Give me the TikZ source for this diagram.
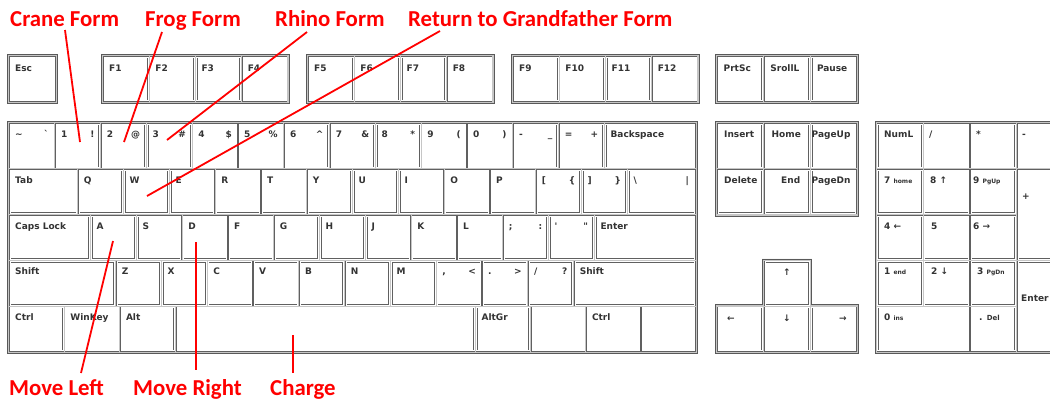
\documentclass[tikz,border=0pt]{standalone}
\usepackage{fontspec}
\setmainfont{DejaVu Sans}
\newfontfamily\redf{Carlito}
\tikzset{
 keyb/.style={draw=gray!75!black, double=white, double distance=0.7pt, line width=0.55pt, fill=white},
 grp/.style={draw=gray!70!black, fill=gray!45, line width=0.7pt},
 klab/.style={anchor=base west, inner sep=0pt, font=\bfseries\fontsize{9}{9}\selectfont, text=black!80},
 klabr/.style={klab, anchor=base east},
 klabc/.style={klab, anchor=base},
 redlab/.style={anchor=base west, inner sep=0pt, text=red, font=\redf\bfseries\fontsize{22.8}{24}\selectfont},
 redline/.style={draw=red, line width=1.8pt}
}
\newcommand\kbkey[4]{\draw[keyb] ({#1+1.3},{#2+1.3}) rectangle ({#3-1.3},{#4-1.3});}
\newcommand\kbl[3]{\node[klab] at ({#1+6},{#2+14.5}) {#3};}
\newcommand\kbp[4]{\node[klab] at ({#1+6},{#2+14.5}) {#3};\node[klabr] at ({#1+45.8-6},{#2+14.5}) {#4};}
\newcommand\kbsm[1]{{\fontsize{6}{6}\selectfont #1}}
\begin{document}
\begin{tikzpicture}[x=1pt,y=-1pt]
\useasboundingbox (0,0) rectangle (1050,400);
\clip (0,0) rectangle (1050,400);
% ---------- function row ----------
\draw[grp] (7.5,54.5) rectangle (57.5,103.5);
\kbkey{9}{56}{56}{102}
\node[klab] at (15,71) {Esc};
\foreach \g/\n in {103/1,308/5,513/9}{
  \draw[grp] ({\g-1.5},54.5) rectangle ({\g+4*46.2+1.5},103.5);
  \foreach \k in {0,...,3}{
    \kbkey{\g+\k*46.2}{56}{\g+\k*46.2+46.2}{102}
    \pgfmathtruncatemacro\fn{\n+\k}
    \node[klab] at ({\g+\k*46.2+6},71) {F\fn};
  }
}
\draw[grp] (715.5,54.5) rectangle (858.5,103.5);
\foreach \k/\t in {0/PrtSc,1/SrollL,2/Pause}{
  \kbkey{717+\k*46.67}{56}{717+\k*46.67+46.67}{102}
  \node[klab] at ({717+\k*46.67+6.5},71) {\t};
}
% ---------- main block ----------
\draw[grp] (7.5,121.5) rectangle (697.5,353.5);
\foreach \k in {0,...,12}{\kbkey{9+\k*45.8}{123}{9+\k*45.8+45.8}{168.8}}
\kbkey{604.4}{123}{696}{168.8}
\kbkey{9}{168.8}{77.7}{214.6}
\foreach \k in {0,...,11}{\kbkey{77.7+\k*45.8}{168.8}{77.7+\k*45.8+45.8}{214.6}}
\kbkey{627.3}{168.8}{696}{214.6}
\kbkey{9}{214.6}{90.5}{260.4}
\foreach \k in {0,...,10}{\kbkey{90.5+\k*45.8}{214.6}{90.5+\k*45.8+45.8}{260.4}}
\kbkey{594.3}{214.6}{696}{260.4}
\kbkey{9}{260.4}{115.6}{306.2}
\foreach \k in {0,...,9}{\kbkey{115.6+\k*45.8}{260.4}{115.6+\k*45.8+45.8}{306.2}}
\kbkey{573.6}{260.4}{696}{306.2}
\foreach \a/\b in {9/64.2,64.2/119.8,119.8/175.6,175.6/475.4,475.4/530.6,530.6/585.8,585.8/640.9,640.9/696}{\kbkey{\a}{306.2}{\b}{352}}
% row 1 labels
\kbp{9}{123}{\textasciitilde}{\textasciigrave}
\kbp{54.8}{123}{1}{!}
\kbp{100.6}{123}{2}{@}
\kbp{146.4}{123}{3}{\#}
\kbp{192.2}{123}{4}{\$}
\kbp{238}{123}{5}{\%}
\kbp{283.8}{123}{6}{\textasciicircum}
\kbp{329.6}{123}{7}{\&}
\kbp{375.4}{123}{8}{*}
\kbp{421.2}{123}{9}{(}
\kbp{467}{123}{0}{)}
\kbp{512.8}{123}{-}{\_}
\kbp{558.6}{123}{=}{+}
\kbl{604.4}{123}{Backspace}
% row 2 labels
\kbl{9}{168.8}{Tab}
\foreach \k/\t in {0/Q,1/W,2/E,3/R,4/T,5/Y,6/U,7/I,8/O,9/P}{\kbl{77.7+\k*45.8}{168.8}{\t}}
\kbp{535.7}{168.8}{[}{\{}
\kbp{581.5}{168.8}{]}{\}}
\node[klab] at (633.3,183.3) {\textbackslash};
\node[klabr] at (689,183.3) {|};
% row 3 labels
\kbl{9}{214.6}{Caps Lock}
\foreach \k/\t in {0/A,1/S,2/D,3/F,4/G,5/H,6/J,7/K,8/L}{\kbl{90.5+\k*45.8}{214.6}{\t}}
\kbp{502.7}{214.6}{;}{:}
\kbp{548.5}{214.6}{\textquotesingle}{\textquotedbl}
\kbl{594.3}{214.6}{Enter}
% row 4 labels
\kbl{9}{260.4}{Shift}
\foreach \k/\t in {0/Z,1/X,2/C,3/V,4/B,5/N,6/M}{\kbl{115.6+\k*45.8}{260.4}{\t}}
\kbp{436.2}{260.4}{,}{<}
\kbp{482}{260.4}{.}{>}
\kbp{527.8}{260.4}{/}{?}
\kbl{573.6}{260.4}{Shift}
% row 5 labels
\kbl{9}{306.2}{Ctrl}
\kbl{64.2}{306.2}{WinKey}
\kbl{119.8}{306.2}{Alt}
\kbl{475.4}{306.2}{AltGr}
\kbl{585.8}{306.2}{Ctrl}
% ---------- navigation ----------
\draw[grp] (715.5,121.5) rectangle (858.5,216.1);
\foreach \k in {0,1,2}{
  \kbkey{717+\k*46.67}{123}{717+\k*46.67+46.67}{168.8}
  \kbkey{717+\k*46.67}{168.8}{717+\k*46.67+46.67}{214.6}
}
\node[klab] at (724,137.5) {Insert};
\node[klab] at (771.5,137.5) {Home};
\node[klab] at (811.5,137.5) {PageUp};
\node[klab] at (724,183.3) {Delete};
\node[klab] at (781,183.3) {End};
\node[klab] at (811.5,183.3) {PageDn};
% arrows
\draw[grp] (762.2,258.9) -- (811.8,258.9) -- (811.8,304.7) -- (858.5,304.7) -- (858.5,353.5) -- (715.5,353.5) -- (715.5,304.7) -- (762.2,304.7) -- cycle;
\kbkey{763.67}{260.4}{810.33}{306.2}
\kbkey{717}{306.2}{763.67}{352}
\kbkey{763.67}{306.2}{810.33}{352}
\kbkey{810.33}{306.2}{857}{352}
\node[klabc] at (787,275) {↑};
\node[klabc] at (731,321.5) {←};
\node[klabc] at (787,321.5) {↓};
\node[klabc] at (843,321.5) {→};
% ---------- numpad ----------
\draw[grp] (875,121.5) rectangle (1066,353.5);
\foreach \k in {0,1,2,3}{\kbkey{876.5+\k*46.7}{123}{876.5+\k*46.7+46.7}{168.8}}
\foreach \k in {0,1,2}{
  \kbkey{876.5+\k*46.7}{168.8}{876.5+\k*46.7+46.7}{214.6}
  \kbkey{876.5+\k*46.7}{214.6}{876.5+\k*46.7+46.7}{260.4}
  \kbkey{876.5+\k*46.7}{260.4}{876.5+\k*46.7+46.7}{306.2}
}
\kbkey{1016.6}{168.8}{1063.3}{260.4}
\kbkey{1016.6}{260.4}{1063.3}{352}
\kbkey{876.5}{306.2}{969.9}{352}
\kbkey{969.9}{306.2}{1016.6}{352}
\node[klab] at (884,137.5) {NumL};
\node[klab] at (929,137.5) {/};
\node[klab] at (976,137.5) {*};
\node[klab] at (1022,137.5) {-};
\node[klab] at (884,183.3) {7 \kbsm{home}};
\node[klab] at (930,183.3) {8 ↑};
\node[klab] at (973,183.3) {9 \kbsm{PgUp}};
\node[klab] at (1022,199) {+};
\node[klab] at (884,229.1) {4 ←};
\node[klab] at (931,229.1) {5};
\node[klab] at (973,229.1) {6 →};
\node[klab] at (884,274.9) {1 \kbsm{end}};
\node[klab] at (931,274.9) {2 ↓};
\node[klab] at (977,274.9) {3 \kbsm{PgDn}};
\node[klab] at (884,320.7) {0 \kbsm{ins}};
\node[klab] at (979,320.7) {. {\fontsize{7}{7}\selectfont Del}};
\node[klab] at (1021,301) {Enter};
% ---------- annotations ----------
\node[redlab] (crane) at (10,26) {Crane Form};
\node[redlab] (frog) at (145,26) {Frog Form};
\node[redlab] (rhino) at (275,26) {Rhino Form};
\node[redlab] (ret) at (408,26) {Return to Grandfather Form};
\node[redlab] (left) at (9,395) {Move Left};
\node[redlab] (right) at (133,395) {Move Right};
\node[redlab] (charge) at (270,395) {Charge};
\coordinate (c1) at (65,30);   \coordinate (c2) at (80,142);
\coordinate (f1) at (162,32);  \coordinate (f2) at (124,142);
\coordinate (r1) at (307,32);  \coordinate (r2) at (167,140);
\coordinate (g1) at (440,31);  \coordinate (g2) at (147,196);
\coordinate (l1) at (113,241); \coordinate (l2) at (81,373);
\coordinate (m1) at (196,242); \coordinate (m2) at (196,370);
\coordinate (h1) at (293,335); \coordinate (h2) at (293,373);
\draw[redline] (c1) -- (c2);
\draw[redline] (f1) -- (f2);
\draw[redline] (r1) -- (r2);
\draw[redline] (g1) -- (g2);
\draw[redline] (l1) -- (l2);
\draw[redline] (m1) -- (m2);
\draw[redline] (h1) -- (h2);
\end{tikzpicture}
\end{document}
